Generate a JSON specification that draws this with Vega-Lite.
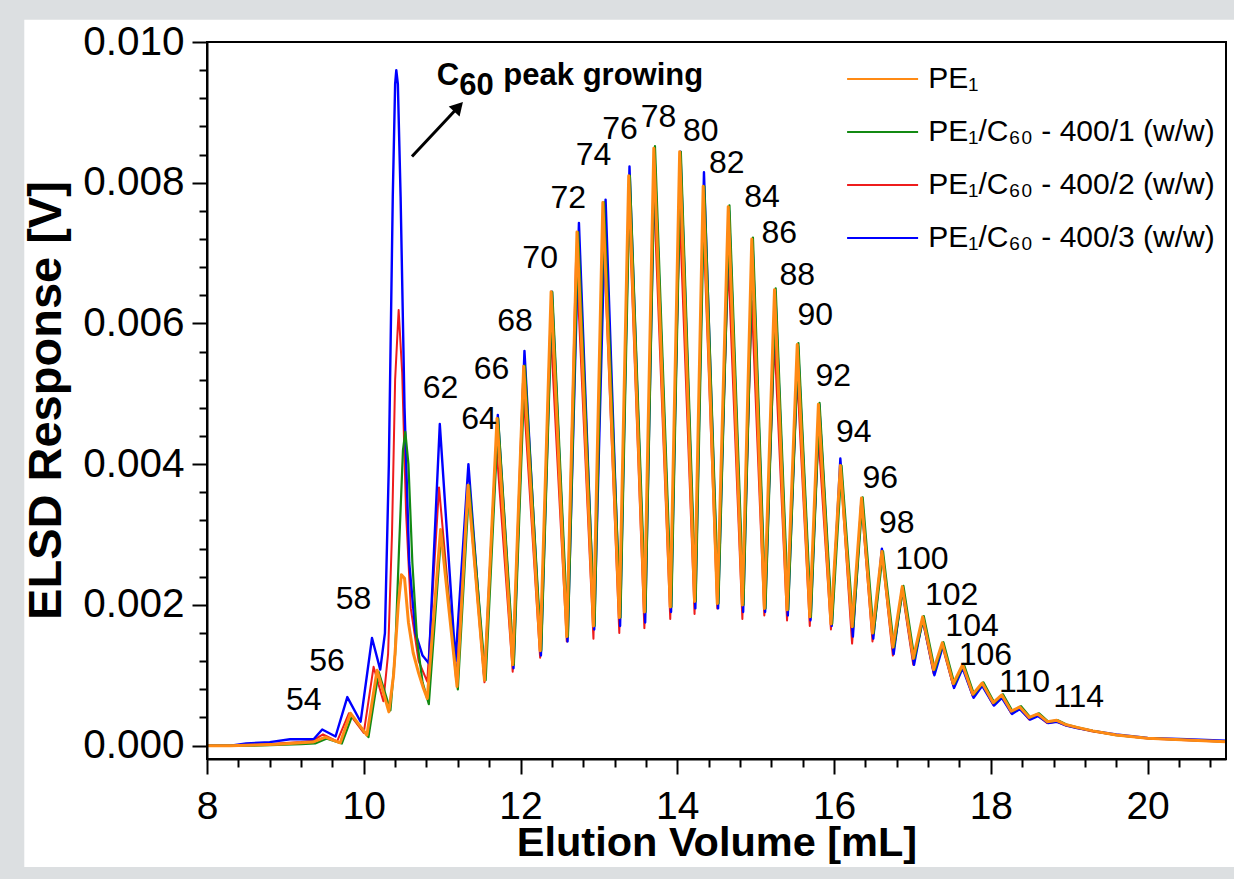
{
  "$schema": "https://vega.github.io/schema/vega-lite/v6.json",
  "width": 1019,
  "height": 717,
  "autosize": {"type": "none"},
  "padding": {"left": 207, "top": 42, "right": 8, "bottom": 120},
  "background": "#dcdfe1",
  "config": {"view": {"stroke": null}, "font": "Liberation Sans", "axis": {"labelOverlap": false}},
  "datasets": {
    "pe1": [
      {"x":8.0,"y":0},{"x":8.3,"y":0},{"x":8.6,"y":0.00001},{"x":8.9,"y":0.00002},{"x":9.2,"y":0.00004},{"x":9.35,"y":0.00005},
      {"x":9.51,"y":0.00012},{"x":9.70,"y":0.00004},{"x":9.83,"y":0.00046},{"x":10.04,"y":0.00015},{"x":10.17,"y":0.00107},{"x":10.32,"y":0.00048},
      {"x":10.38,"y":0.001},{"x":10.44,"y":0.002},{"x":10.48,"y":0.00243},{"x":10.52,"y":0.00238},{"x":10.57,"y":0.00175},{"x":10.63,"y":0.00132},
      {"x":10.70,"y":0.00103},{"x":10.76,"y":0.00082},{"x":10.81,"y":0.00067},{"x":10.98,"y":0.00307},{"x":11.19,"y":0.00084},{"x":11.33,"y":0.0037},
      {"x":11.54,"y":0.00093},{"x":11.70,"y":0.00465},{"x":11.90,"y":0.00115},{"x":12.04,"y":0.00539},{"x":12.25,"y":0.00135},{"x":12.39,"y":0.00645},
      {"x":12.59,"y":0.00155},{"x":12.72,"y":0.0073},{"x":12.93,"y":0.0017},{"x":13.05,"y":0.00772},{"x":13.26,"y":0.00182},{"x":13.38,"y":0.0081},
      {"x":13.58,"y":0.0019},{"x":13.70,"y":0.00849},{"x":13.91,"y":0.00197},{"x":14.03,"y":0.00844},{"x":14.22,"y":0.00205},{"x":14.33,"y":0.00795},
      {"x":14.51,"y":0.00202},{"x":14.65,"y":0.00766},{"x":14.83,"y":0.002},{"x":14.95,"y":0.0072},{"x":15.11,"y":0.00195},{"x":15.24,"y":0.00648},
      {"x":15.40,"y":0.00193},{"x":15.53,"y":0.0057},{"x":15.69,"y":0.00183},{"x":15.80,"y":0.00485},{"x":15.96,"y":0.00173},{"x":16.08,"y":0.00398},
      {"x":16.23,"y":0.00169},{"x":16.35,"y":0.00352},{"x":16.49,"y":0.0016},{"x":16.61,"y":0.00276},{"x":16.75,"y":0.0014},{"x":16.87,"y":0.00226},
      {"x":17.01,"y":0.00124},{"x":17.13,"y":0.00183},{"x":17.27,"y":0.00108},{"x":17.38,"y":0.00146},{"x":17.52,"y":0.00088},{"x":17.64,"y":0.00115},
      {"x":17.77,"y":0.00073},{"x":17.89,"y":0.00089},{"x":18.03,"y":0.00061},{"x":18.14,"y":0.00072},{"x":18.26,"y":0.00049},{"x":18.37,"y":0.00055},
      {"x":18.49,"y":0.0004},{"x":18.60,"y":0.00045},{"x":18.72,"y":0.00034},{"x":18.84,"y":0.00036},{"x":18.95,"y":0.0003},{"x":19.1,"y":0.00026},
      {"x":19.3,"y":0.00021},{"x":19.6,"y":0.00015},{"x":20.0,"y":0.000105},{"x":20.5,"y":0.00008},{"x":21.0,"y":0.000055}
    ],
    "c1": [
      {"x":8.0,"y":0},{"x":8.3,"y":0},{"x":8.6,"y":0},{"x":8.9,"y":0.00001},{"x":9.2,"y":0.00002},{"x":9.38,"y":0.00003},
      {"x":9.53,"y":0.0001},{"x":9.72,"y":0.00003},{"x":9.85,"y":0.00042},{"x":10.06,"y":0.00012},{"x":10.19,"y":0.00105},{"x":10.34,"y":0.0005},
      {"x":10.40,"y":0.0013},{"x":10.45,"y":0.0028},{"x":10.50,"y":0.0042},{"x":10.53,"y":0.00446},{"x":10.57,"y":0.004},{"x":10.62,"y":0.0026},
      {"x":10.68,"y":0.0015},{"x":10.75,"y":0.0009},{"x":10.83,"y":0.00059},{"x":10.99,"y":0.00305},{"x":11.20,"y":0.0008},{"x":11.345,"y":0.0037},
      {"x":11.555,"y":0.00093},{"x":11.715,"y":0.00465},{"x":11.915,"y":0.00115},{"x":12.055,"y":0.0054},{"x":12.265,"y":0.00135},{"x":12.405,"y":0.00645},
      {"x":12.605,"y":0.00155},{"x":12.735,"y":0.0073},{"x":12.945,"y":0.0017},{"x":13.065,"y":0.00772},{"x":13.275,"y":0.00182},{"x":13.395,"y":0.0081},
      {"x":13.595,"y":0.0019},{"x":13.715,"y":0.00852},{"x":13.925,"y":0.00197},{"x":14.045,"y":0.00844},{"x":14.235,"y":0.00205},{"x":14.345,"y":0.00795},
      {"x":14.525,"y":0.00202},{"x":14.665,"y":0.00768},{"x":14.845,"y":0.002},{"x":14.965,"y":0.00722},{"x":15.125,"y":0.00195},{"x":15.255,"y":0.0065},
      {"x":15.415,"y":0.00193},{"x":15.545,"y":0.00572},{"x":15.705,"y":0.00183},{"x":15.815,"y":0.00487},{"x":15.975,"y":0.00173},{"x":16.095,"y":0.00398},
      {"x":16.245,"y":0.00169},{"x":16.365,"y":0.00353},{"x":16.505,"y":0.0016},{"x":16.625,"y":0.00276},{"x":16.765,"y":0.0014},{"x":16.885,"y":0.00227},
      {"x":17.025,"y":0.00124},{"x":17.145,"y":0.00184},{"x":17.285,"y":0.00108},{"x":17.395,"y":0.00147},{"x":17.535,"y":0.00088},{"x":17.655,"y":0.00116},
      {"x":17.785,"y":0.00073},{"x":17.905,"y":0.0009},{"x":18.045,"y":0.00061},{"x":18.155,"y":0.00073},{"x":18.275,"y":0.00049},{"x":18.385,"y":0.00056},
      {"x":18.505,"y":0.0004},{"x":18.615,"y":0.00046},{"x":18.735,"y":0.00034},{"x":18.855,"y":0.00036},{"x":18.965,"y":0.0003},{"x":19.1,"y":0.00026},
      {"x":19.3,"y":0.00021},{"x":19.6,"y":0.00015},{"x":20.0,"y":0.000105},{"x":20.5,"y":0.00008},{"x":21.0,"y":0.000055}
    ],
    "c2": [
      {"x":8.0,"y":0},{"x":8.3,"y":0},{"x":8.6,"y":0.00001},{"x":8.9,"y":0.00003},{"x":9.2,"y":0.00005},{"x":9.35,"y":0.00007},
      {"x":9.48,"y":0.00016},{"x":9.66,"y":0.00006},{"x":9.81,"y":0.00046},{"x":10.00,"y":0.00018},{"x":10.125,"y":0.00112},{"x":10.25,"y":0.00063},
      {"x":10.31,"y":0.0013},{"x":10.36,"y":0.003},{"x":10.40,"y":0.0052},{"x":10.445,"y":0.00619},{"x":10.49,"y":0.0053},{"x":10.54,"y":0.0033},
      {"x":10.60,"y":0.00195},{"x":10.70,"y":0.0012},{"x":10.81,"y":0.00091},{"x":10.96,"y":0.00367},{"x":11.18,"y":0.00092},{"x":11.33,"y":0.0037},
      {"x":11.54,"y":0.0009},{"x":11.69,"y":0.00429},{"x":11.90,"y":0.00105},{"x":12.03,"y":0.00515},{"x":12.25,"y":0.00125},{"x":12.38,"y":0.006},
      {"x":12.59,"y":0.00148},{"x":12.71,"y":0.007},{"x":12.93,"y":0.00152},{"x":13.05,"y":0.0075},{"x":13.26,"y":0.0016},{"x":13.38,"y":0.0078},
      {"x":13.58,"y":0.00167},{"x":13.70,"y":0.0079},{"x":13.91,"y":0.0018},{"x":14.03,"y":0.0076},{"x":14.22,"y":0.00187},{"x":14.33,"y":0.0075},
      {"x":14.51,"y":0.00195},{"x":14.65,"y":0.00687},{"x":14.83,"y":0.0018},{"x":14.95,"y":0.00632},{"x":15.11,"y":0.00185},{"x":15.24,"y":0.00577},
      {"x":15.40,"y":0.00178},{"x":15.53,"y":0.00524},{"x":15.69,"y":0.0017},{"x":15.80,"y":0.00441},{"x":15.96,"y":0.00165},{"x":16.08,"y":0.00397},
      {"x":16.23,"y":0.00145},{"x":16.35,"y":0.00345},{"x":16.49,"y":0.00148},{"x":16.61,"y":0.00275},{"x":16.75,"y":0.00128},{"x":16.87,"y":0.0022},
      {"x":17.01,"y":0.00115},{"x":17.13,"y":0.00178},{"x":17.27,"y":0.00102},{"x":17.38,"y":0.00142},{"x":17.52,"y":0.00085},{"x":17.64,"y":0.00112},
      {"x":17.77,"y":0.0007},{"x":17.89,"y":0.00087},{"x":18.03,"y":0.00058},{"x":18.14,"y":0.0007},{"x":18.26,"y":0.00046},{"x":18.37,"y":0.00053},
      {"x":18.49,"y":0.00037},{"x":18.60,"y":0.00043},{"x":18.72,"y":0.00032},{"x":18.84,"y":0.00034},{"x":18.95,"y":0.00029},{"x":19.1,"y":0.00025},
      {"x":19.3,"y":0.0002},{"x":19.6,"y":0.00015},{"x":20.0,"y":0.0001},{"x":20.5,"y":0.000075},{"x":21.0,"y":0.000055}
    ],
    "c3": [
      {"x":8.0,"y":0},{"x":8.3,"y":0},{"x":8.5,"y":0.00003},{"x":8.8,"y":0.00005},{"x":9.06,"y":0.00009},{"x":9.2,"y":0.00009},
      {"x":9.36,"y":0.00009},{"x":9.47,"y":0.00023},{"x":9.64,"y":0.00013},{"x":9.79,"y":0.00069},{"x":9.96,"y":0.00034},{"x":10.105,"y":0.00153},
      {"x":10.21,"y":0.00108},{"x":10.27,"y":0.0016},{"x":10.32,"y":0.004},{"x":10.37,"y":0.0078},{"x":10.40,"y":0.0094},{"x":10.415,"y":0.0096},
      {"x":10.435,"y":0.0094},{"x":10.47,"y":0.0078},{"x":10.52,"y":0.0048},{"x":10.58,"y":0.0026},{"x":10.66,"y":0.0016},{"x":10.75,"y":0.00128},
      {"x":10.83,"y":0.00117},{"x":10.97,"y":0.00457},{"x":11.17,"y":0.0012},{"x":11.335,"y":0.004},{"x":11.54,"y":0.00095},{"x":11.71,"y":0.0047},
      {"x":11.91,"y":0.0011},{"x":12.05,"y":0.00561},{"x":12.26,"y":0.00128},{"x":12.40,"y":0.00645},{"x":12.60,"y":0.00148},{"x":12.745,"y":0.00743},
      {"x":12.94,"y":0.00165},{"x":13.085,"y":0.00776},{"x":13.27,"y":0.0017},{"x":13.39,"y":0.00823},{"x":13.59,"y":0.00175},{"x":13.71,"y":0.00838},
      {"x":13.92,"y":0.0019},{"x":14.04,"y":0.00844},{"x":14.23,"y":0.00195},{"x":14.34,"y":0.00815},{"x":14.52,"y":0.00195},{"x":14.66,"y":0.0076},
      {"x":14.84,"y":0.0019},{"x":14.96,"y":0.00715},{"x":15.12,"y":0.0019},{"x":15.25,"y":0.00645},{"x":15.41,"y":0.00185},{"x":15.54,"y":0.00568},
      {"x":15.70,"y":0.00178},{"x":15.81,"y":0.00485},{"x":15.97,"y":0.0017},{"x":16.08,"y":0.00408},{"x":16.24,"y":0.00155},{"x":16.35,"y":0.0035},
      {"x":16.50,"y":0.00152},{"x":16.61,"y":0.0028},{"x":16.76,"y":0.0013},{"x":16.87,"y":0.00225},{"x":17.02,"y":0.00115},{"x":17.13,"y":0.0018},
      {"x":17.28,"y":0.001},{"x":17.39,"y":0.00142},{"x":17.53,"y":0.00082},{"x":17.64,"y":0.0011},{"x":17.78,"y":0.00068},{"x":17.89,"y":0.00085},
      {"x":18.04,"y":0.00057},{"x":18.14,"y":0.00068},{"x":18.27,"y":0.00045},{"x":18.37,"y":0.00052},{"x":18.50,"y":0.00037},{"x":18.60,"y":0.00042},
      {"x":18.73,"y":0.00032},{"x":18.84,"y":0.00034},{"x":18.95,"y":0.00029},{"x":19.1,"y":0.00025},{"x":19.3,"y":0.00021},{"x":19.6,"y":0.00016},
      {"x":20.0,"y":0.00011},{"x":20.5,"y":0.00009},{"x":21.0,"y":0.00007}
    ],
    "peaks": [
      {"n":"54","x":9.235,"y":0.00065},{"n":"56","x":9.53,"y":0.0012},{"n":"58","x":9.87,"y":0.00208},
      {"n":"62","x":10.98,"y":0.00508},{"n":"64","x":11.47,"y":0.00464},{"n":"66","x":11.63,"y":0.00535},
      {"n":"68","x":11.93,"y":0.00603},{"n":"70","x":12.25,"y":0.00693},{"n":"72","x":12.61,"y":0.00778},
      {"n":"74","x":12.93,"y":0.00839},{"n":"76","x":13.27,"y":0.00876},{"n":"78","x":13.76,"y":0.00893},
      {"n":"80","x":14.30,"y":0.00873},{"n":"82","x":14.63,"y":0.00828},{"n":"84","x":15.08,"y":0.0078},
      {"n":"86","x":15.30,"y":0.00728},{"n":"88","x":15.53,"y":0.00669},{"n":"90","x":15.76,"y":0.00612},
      {"n":"92","x":15.99,"y":0.00525},{"n":"94","x":16.25,"y":0.00446},{"n":"96","x":16.59,"y":0.0038},
      {"n":"98","x":16.80,"y":0.00317},{"n":"100","x":17.12,"y":0.00265},{"n":"102","x":17.50,"y":0.00214},
      {"n":"104","x":17.76,"y":0.0017},{"n":"106","x":17.93,"y":0.00129},{"n":"110","x":18.43,"y":0.00091},
      {"n":"114","x":19.12,"y":0.00069}
    ],
    "note": [
      {"t":"C","x":10.931,"y":0.009392},
      {"t":"60","x":11.219,"y":0.00925},
      {"t":"peak growing","x":11.781,"y":0.009392}
    ],
    "arrow": [
      {"x":10.615,"y":0.008372,"x2":11.209,"y2":0.009079}
    ]
  },
  "layer": [
    {
      "data": {"values": [{}]},
      "mark": {"type": "rect", "fill": "white", "clip": false},
      "encoding": {
        "x": {
          "datum": 5.669, "type": "quantitative",
          "scale": {"domain": [8, 21], "nice": false, "zero": false},
          "axis": {
            "values": [8, 8.4, 8.8, 9.2, 9.6, 10, 10.4, 10.8, 11.2, 11.6, 12, 12.4, 12.8, 13.2, 13.6, 14, 14.4, 14.8, 15.2, 15.6, 16, 16.4, 16.8, 17.2, 17.6, 18, 18.4, 18.8, 19.2, 19.6, 20, 20.4, 20.8],
            "tickCount": 200,
            "labelExpr": "datum.value % 2 == 0 ? format(datum.value, 'd') : ''",
            "tickSize": {"condition": {"test": "datum.value % 2 == 0", "value": 15}, "value": 8},
            "labelFontSize": {"condition": {"test": "datum.value % 2 == 0", "value": 39}, "value": 0},
            "tickWidth": 2, "tickColor": "black",
            "domainColor": "black", "domainWidth": 2,
            "grid": false,
            "labelFont": "Liberation Sans", "labelColor": "black",
            "labelPadding": 13, "labelFlush": false, "labelOverlap": false,
            "title": "Elution Volume [mL]",
            "titleFont": "Liberation Sans", "titleFontSize": 41.5, "titleFontWeight": "bold", "titleColor": "black",
            "titleY": 96, "titleBaseline": "alphabetic",
            "zindex": 1
          }
        },
        "x2": {"datum": 21.3},
        "y": {
          "datum": 0.010316, "type": "quantitative",
          "scale": {"domain": [-0.00019, 0.010], "nice": false, "zero": false},
          "axis": {
            "values": [0, 0.0004, 0.0008, 0.0012, 0.0016, 0.002, 0.0024, 0.0028, 0.0032, 0.0036, 0.004, 0.0044, 0.0048, 0.0052, 0.0056, 0.006, 0.0064, 0.0068, 0.0072, 0.0076, 0.008, 0.0084, 0.0088, 0.0092, 0.0096, 0.01],
            "tickCount": 200,
            "labelExpr": "abs(datum.value * 500 - round(datum.value * 500)) < 0.01 ? format(datum.value, '.3f') : ''",
            "tickSize": {"condition": {"test": "abs(datum.value * 500 - round(datum.value * 500)) < 0.01", "value": 15}, "value": 8},
            "labelFontSize": {"condition": {"test": "abs(datum.value * 500 - round(datum.value * 500)) < 0.01", "value": 40.5}, "value": 0},
            "tickWidth": 2, "tickColor": "black",
            "domainColor": "black", "domainWidth": 2,
            "grid": false,
            "labelFont": "Liberation Sans", "labelColor": "black",
            "labelPadding": 8, "labelFlush": false, "labelOverlap": false,
            "title": "ELSD Response [V]",
            "titleFont": "Liberation Sans", "titleFontSize": 47, "titleFontWeight": "bold", "titleColor": "black",
            "titleX": -147, "titleY": 358, "titleAngle": 270, "titleAlign": "center", "titleBaseline": "alphabetic",
            "zindex": 1
          }
        },
        "y2": {"datum": -0.001724}
      }
    },
    {
      "data": {"name": "c2"},
      "mark": {"type": "line", "strokeWidth": 2, "strokeJoin": "round"},
      "encoding": {
        "x": {"field": "x", "type": "quantitative"},
        "y": {"field": "y", "type": "quantitative"},
        "color": {
          "datum": "400/2", "type": "nominal",
          "scale": {"domain": ["PE1", "400/1", "400/2", "400/3"], "range": ["#ff8a14", "#138a13", "#ee1c1c", "#0000ff"]},
          "legend": {
            "orient": "none", "legendX": 660.6, "legendY": 22, "title": null, "padding": 0,
            "symbolType": "M-4,0H4", "symbolSize": 315, "symbolStrokeWidth": 2, "symbolFillColor": "transparent",
            "labelFont": "Liberation Sans", "labelFontSize": 30, "labelColor": "black",
            "labelOffset": 30.7, "rowPadding": 23, "labelLimit": 600,
            "labelExpr": "datum.label == 'PE1' ? 'PE₁' : 'PE₁/C₆₀ - ' + datum.label + ' (w/w)'"
          }
        }
      }
    },
    {
      "data": {"name": "c3"},
      "mark": {"type": "line", "strokeWidth": 2.4, "strokeJoin": "round"},
      "encoding": {
        "x": {"field": "x", "type": "quantitative"},
        "y": {"field": "y", "type": "quantitative"},
        "color": {"datum": "400/3", "type": "nominal"}
      }
    },
    {
      "data": {"name": "c1"},
      "mark": {"type": "line", "strokeWidth": 2.2, "strokeJoin": "round"},
      "encoding": {
        "x": {"field": "x", "type": "quantitative"},
        "y": {"field": "y", "type": "quantitative"},
        "color": {"datum": "400/1", "type": "nominal"}
      }
    },
    {
      "data": {"name": "pe1"},
      "mark": {"type": "line", "strokeWidth": 3, "strokeJoin": "round"},
      "encoding": {
        "x": {"field": "x", "type": "quantitative"},
        "y": {"field": "y", "type": "quantitative"},
        "color": {"datum": "PE1", "type": "nominal"}
      }
    },
    {
      "data": {"values": [{}]},
      "mark": {"type": "rect", "filled": false, "stroke": "black", "strokeWidth": 2},
      "encoding": {
        "x": {"datum": 8, "type": "quantitative"},
        "x2": {"datum": 21},
        "y": {"datum": 0.010, "type": "quantitative"},
        "y2": {"datum": -0.00019}
      }
    },
    {
      "data": {"name": "peaks"},
      "mark": {"type": "text", "font": "Liberation Sans", "fontSize": 32, "color": "black", "align": "center", "baseline": "middle"},
      "encoding": {
        "x": {"field": "x", "type": "quantitative"},
        "y": {"field": "y", "type": "quantitative"},
        "text": {"field": "n"}
      }
    },
    {
      "data": {"name": "note"},
      "mark": {"type": "text", "font": "Liberation Sans", "fontSize": 31, "fontWeight": "bold", "color": "black", "align": "left", "baseline": "alphabetic"},
      "encoding": {
        "x": {"field": "x", "type": "quantitative"},
        "y": {"field": "y", "type": "quantitative"},
        "text": {"field": "t"}
      }
    },
    {
      "data": {"name": "arrow"},
      "mark": {"type": "rule", "color": "black", "strokeWidth": 3},
      "encoding": {
        "x": {"field": "x", "type": "quantitative"},
        "y": {"field": "y", "type": "quantitative"},
        "x2": {"field": "x2"},
        "y2": {"field": "y2"}
      }
    },
    {
      "data": {"name": "arrow"},
      "mark": {"type": "point", "shape": "triangle-up", "filled": true, "color": "black", "size": 220, "angle": 43, "opacity": 1},
      "encoding": {
        "x": {"field": "x2", "type": "quantitative"},
        "y": {"field": "y2", "type": "quantitative"}
      }
    }
  ]
}
